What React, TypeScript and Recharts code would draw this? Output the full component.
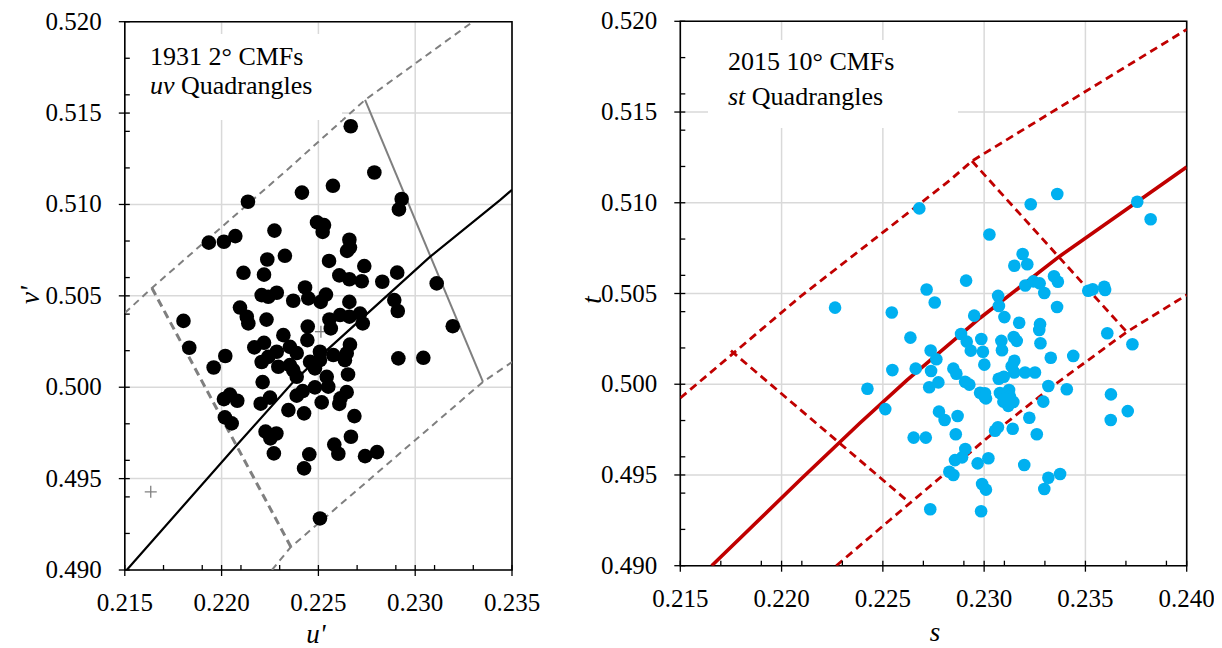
import React from 'react';
import {
  ScatterChart,
  Scatter,
  XAxis,
  YAxis,
  CartesianGrid,
  ReferenceArea,
} from 'recharts';

const SERIF = '"Liberation Serif", "Times New Roman", serif';

// ---- axis ticks ----
const uvMajorX = [0.215, 0.22, 0.225, 0.23, 0.235];
const uvMinorX = [0.217, 0.219, 0.221, 0.223, 0.227, 0.229, 0.231, 0.233];
const stMajorX = [0.215, 0.22, 0.225, 0.23, 0.235, 0.24];
const stMinorX = [0.217, 0.219, 0.221, 0.223, 0.227, 0.229, 0.231, 0.233, 0.237, 0.239];
const majorY = [0.49, 0.495, 0.5, 0.505, 0.51, 0.515, 0.52];
const minorY = [0.492, 0.494, 0.496, 0.498, 0.502, 0.504, 0.506, 0.508, 0.512, 0.514, 0.516, 0.518];

// ---- 1931 2° observers, u'v' ----
const uvU = [
  0.22667, 0.22789, 0.22575, 0.22415, 0.22136, 0.2293, 0.22916, 0.22493, 0.22529, 0.22522,
  0.22273, 0.21934, 0.22012, 0.22071, 0.2266, 0.22663, 0.22648, 0.22327, 0.22236, 0.22555,
  0.22737, 0.22113, 0.22219, 0.22608, 0.2266, 0.22724, 0.2283, 0.22907, 0.23111, 0.22431,
  0.22207, 0.22241, 0.22285, 0.2237, 0.22448, 0.22512, 0.22539, 0.2266, 0.22892, 0.2291,
  0.21803, 0.22095, 0.2213, 0.22138, 0.22232, 0.22557, 0.22564, 0.22612, 0.2266, 0.22715,
  0.22729, 0.22445, 0.22443, 0.23194, 0.22319, 0.22219, 0.22169, 0.21833, 0.22019, 0.21959,
  0.22663, 0.22646, 0.22637, 0.22913, 0.23042, 0.22285, 0.22353, 0.22388, 0.22241, 0.22207,
  0.22293, 0.22353, 0.2237, 0.22388, 0.22457, 0.22482, 0.22508, 0.22508, 0.22577, 0.22543,
  0.22551, 0.22653, 0.22212, 0.22482, 0.22012, 0.22043, 0.22081, 0.2225, 0.22202, 0.22388,
  0.22419, 0.22517, 0.22646, 0.22614, 0.22608, 0.22017, 0.22052, 0.22345, 0.22426, 0.22686,
  0.22227, 0.22252, 0.22283, 0.22668, 0.22582, 0.22603, 0.2227, 0.22453, 0.22426, 0.22741,
  0.22803, 0.22508,
];
const uvV = [
  0.51428, 0.51175, 0.51102, 0.51065, 0.51015, 0.5103, 0.50973, 0.50902, 0.50887, 0.5085,
  0.50857, 0.50791, 0.50796, 0.50827, 0.50807, 0.50764, 0.50746, 0.50719, 0.50699, 0.50691,
  0.50663, 0.50626, 0.50616, 0.50612, 0.50591, 0.5058, 0.50577, 0.50627, 0.50568, 0.50546,
  0.50504, 0.50495, 0.50517, 0.50473, 0.50486, 0.50467, 0.50507, 0.50467, 0.50477, 0.50417,
  0.50363, 0.50436, 0.50386, 0.50349, 0.5037, 0.50371, 0.50322, 0.50395, 0.50386, 0.50403,
  0.50349, 0.50332, 0.50258, 0.50334, 0.50285, 0.50243, 0.50218, 0.50216, 0.50171, 0.50108,
  0.50233, 0.50185, 0.50148, 0.50158, 0.50161, 0.50194, 0.50221, 0.50187, 0.50166, 0.50138,
  0.50112, 0.50121, 0.50094, 0.50057, 0.50139, 0.50103, 0.50148, 0.50194, 0.50176, 0.50057,
  0.50003, 0.5007, 0.50028, 0.49999, 0.49935, 0.4996, 0.49926, 0.49943, 0.4991, 0.49954,
  0.49979, 0.49917, 0.49973, 0.49939, 0.49909, 0.49835, 0.49802, 0.49875, 0.49857, 0.49842,
  0.49757, 0.4972, 0.49747, 0.49729, 0.49686, 0.49636, 0.49638, 0.49633, 0.49556, 0.49623,
  0.49645, 0.49282,
];
const uvCrossU = [0.21634, 0.22513];
const uvCrossV = [0.49428, 0.50304];

// Planckian-like locus through the uv cloud
const uvLocusU = [0.2151, 0.2208, 0.22379, 0.22544, 0.23076, 0.23438, 0.235];
const uvLocusV = [0.49, 0.49685, 0.50039, 0.50203, 0.50713, 0.51024, 0.5108];

// quadrangle edges
const uvUpperU = [0.215, 0.2164, 0.22338, 0.22741, 0.23298];
const uvUpperV = [0.50406, 0.50543, 0.51189, 0.51572, 0.52];
const uvLowerU = [0.2226, 0.22358, 0.2335, 0.235];
const uvLowerV = [0.49, 0.49126, 0.50029, 0.50138];
const uvLeftU = [0.2164, 0.22358];
const uvLeftV = [0.50543, 0.49126];
const uvRightU = [0.22741, 0.2335];
const uvRightV = [0.51572, 0.50029];

// ---- 2015 10° observers, st ----
const stS = [
  0.2268, 0.23026, 0.22264, 0.22544, 0.22716, 0.22756, 0.22911, 0.23069, 0.23073, 0.22951,
  0.22636, 0.22886, 0.22914, 0.22934, 0.22986, 0.22994, 0.22736, 0.22764, 0.23001, 0.22547,
  0.22662, 0.22738, 0.22848, 0.22863, 0.22906, 0.22927, 0.23361, 0.2323, 0.23756, 0.23822,
  0.2319, 0.23149, 0.23213, 0.23203, 0.23243, 0.23274, 0.23345, 0.23364, 0.23297, 0.23514,
  0.23536, 0.23593, 0.23597, 0.2336, 0.231, 0.23173, 0.23276, 0.23272, 0.23608, 0.23732,
  0.23085, 0.23088, 0.23146, 0.23161, 0.23278, 0.23329, 0.2344, 0.23149, 0.23136, 0.23149,
  0.23202, 0.23251, 0.23072, 0.23097, 0.23317, 0.23408, 0.23626, 0.23709, 0.23625, 0.23004,
  0.23009, 0.23078, 0.23123, 0.23095, 0.23119, 0.23144, 0.23128, 0.23103, 0.23292, 0.23223,
  0.23141, 0.23054, 0.23068, 0.2326, 0.22424, 0.22512, 0.22729, 0.22774, 0.2298, 0.23002,
  0.22777, 0.22805, 0.22869, 0.22652, 0.22712, 0.2286, 0.22907, 0.22891, 0.22856, 0.22828,
  0.22848, 0.22968, 0.23021, 0.2299, 0.23009, 0.22734, 0.22985, 0.23198, 0.23317, 0.23297,
  0.23375,
];
const stT = [
  0.50969, 0.50825, 0.50422, 0.50395, 0.50522, 0.5045, 0.50571, 0.50487, 0.50431, 0.50378,
  0.50257, 0.50277, 0.50235, 0.50185, 0.50249, 0.50179, 0.50186, 0.50138, 0.50108, 0.50078,
  0.50086, 0.50073, 0.50086, 0.50058, 0.50014, 0.49998, 0.51048, 0.50992, 0.51006, 0.50909,
  0.50718, 0.50653, 0.50661, 0.50544, 0.50567, 0.50556, 0.50595, 0.50565, 0.50503, 0.50515,
  0.50523, 0.50537, 0.50519, 0.50426, 0.5037, 0.50339, 0.50331, 0.50299, 0.50281, 0.5022,
  0.50239, 0.50187, 0.5026, 0.50239, 0.50226, 0.50146, 0.50156, 0.50129, 0.50099, 0.50065,
  0.50065, 0.50065, 0.5003, 0.50041, 0.4999, 0.49972, 0.49944, 0.49852, 0.49803, 0.4995,
  0.49922, 0.49952, 0.49968, 0.49904, 0.49881, 0.49902, 0.49931, 0.49922, 0.49904, 0.49815,
  0.49755, 0.49744, 0.49763, 0.49724, 0.49975, 0.49863, 0.49983, 0.5001, 0.49953, 0.49931,
  0.49849, 0.49803, 0.49825, 0.49706, 0.49706, 0.49724, 0.49643, 0.49597, 0.49582, 0.49518,
  0.495, 0.49564, 0.49592, 0.4945, 0.49419, 0.49311, 0.493, 0.49555, 0.49485, 0.49423,
  0.49505,
];

const stLocusS = [0.21655, 0.22091, 0.22387, 0.22619, 0.2298, 0.23375, 0.23756, 0.24];
const stLocusT = [0.49, 0.49472, 0.49786, 0.50023, 0.50365, 0.50707, 0.51006, 0.51197];

const stUpperS = [0.215, 0.22091, 0.22832, 0.2294, 0.24];
const stUpperT = [0.49924, 0.50481, 0.51125, 0.5123, 0.51955];
const stLowerS = [0.2227, 0.22535, 0.23013, 0.23334, 0.23704, 0.24];
const stLowerT = [0.49, 0.49252, 0.49702, 0.49986, 0.50288, 0.50492];
const stLeftS = [0.2175, 0.22626];
const stLeftT = [0.50185, 0.49353];
const stRightS = [0.2294, 0.23704];
const stRightT = [0.5123, 0.50288];

const zip = (xs: number[], ys: number[]) => xs.map((x, i) => ({ x, y: ys[i] }));

const isMajor = (v: number) => Math.abs(v / 0.005 - Math.round(v / 0.005)) < 1e-6;
const fmt = (v: number) => v.toFixed(3);

const NoDot = () => <g />;

const XTick = (axisY: number) => (props: any) => {
  const { x, payload } = props;
  const v = payload.value as number;
  if (!isMajor(v)) {
    return <line x1={x} x2={x} y1={axisY - 5} y2={axisY} stroke="#000" strokeWidth={1.3} />;
  }
  return (
    <g>
      <line x1={x} x2={x} y1={axisY - 5} y2={axisY + 6} stroke="#000" strokeWidth={1.3} />
      <text x={x} y={axisY + 41} textAnchor="middle" fontFamily={SERIF} fontSize={25} fill="#000">
        {fmt(v)}
      </text>
    </g>
  );
};

const YTick = (axisX: number) => (props: any) => {
  const { y, payload } = props;
  const v = payload.value as number;
  if (!isMajor(v)) {
    return <line x1={axisX} x2={axisX + 5} y1={y} y2={y} stroke="#000" strokeWidth={1.3} />;
  }
  return (
    <g>
      <line x1={axisX - 6} x2={axisX + 5} y1={y} y2={y} stroke="#000" strokeWidth={1.3} />
      <text x={axisX - 23} y={y + 8} textAnchor="end" fontFamily={SERIF} fontSize={25} fill="#000">
        {fmt(v)}
      </text>
    </g>
  );
};

const sortTicks = (a: number[], b: number[]) => [...a, ...b].sort((p, q) => p - q);

interface PanelProps {
  width: number;
  height: number;
  plotLeft: number;
  plotTop: number;
  plotWidth: number;
  plotHeight: number;
  xDomain: [number, number];
  xTicks: number[];
  xMajor: number[];
  children: React.ReactNode;
}

const Panel: React.FC<PanelProps> = ({
  width, height, plotLeft, plotTop, plotWidth, plotHeight, xDomain, xTicks, xMajor, children,
}) => {
  const xAxisH = 60;
  const bottom = height - plotTop - plotHeight - xAxisH;
  const right = width - plotLeft - plotWidth;
  return (
    <ScatterChart
      width={width}
      height={height}
      margin={{ top: plotTop, right, bottom, left: 0 }}
    >
      <CartesianGrid
        stroke="#d9d9d9"
        strokeWidth={1.5}
        verticalValues={xMajor}
        horizontalValues={majorY}
      />
      <XAxis
        type="number"
        dataKey="x"
        domain={xDomain}
        ticks={xTicks}
        allowDataOverflow
        axisLine={false}
        tickLine={false}
        height={xAxisH}
        interval={0}
        tick={XTick(plotTop + plotHeight)}
      />
      <YAxis
        type="number"
        dataKey="y"
        domain={[0.49, 0.52]}
        ticks={sortTicks(majorY, minorY)}
        allowDataOverflow
        axisLine={false}
        tickLine={false}
        width={plotLeft}
        interval={0}
        tick={YTick(plotLeft)}
      />
      {children}
      <ReferenceArea
        x1={xDomain[0]}
        x2={xDomain[1]}
        y1={0.49}
        y2={0.52}
        fill="none"
        stroke="#000"
        strokeWidth={1.6}
        fillOpacity={0}
      />
    </ScatterChart>
  );
};

const edge = (
  key: string,
  xs: number[],
  ys: number[],
  stroke: string,
  strokeWidth: number,
  dash?: string,
) => (
  <Scatter
    key={key}
    data={zip(xs, ys)}
    line={{ stroke, strokeWidth, strokeDasharray: dash }}
    lineType="joint"
    shape={NoDot}
    isAnimationActive={false}
  />
);

const Cross = (props: any) => {
  const { cx, cy } = props;
  return (
    <g stroke="#808080" strokeWidth={1.3}>
      <line x1={cx - 6} x2={cx + 6} y1={cy} y2={cy} />
      <line x1={cx} x2={cx} y1={cy - 6} y2={cy + 6} />
    </g>
  );
};

const textBox: React.CSSProperties = {
  position: 'absolute',
  background: '#fff',
  fontFamily: SERIF,
  fontSize: 26,
  color: '#000',
  boxSizing: 'border-box',
  paddingLeft: 20,
  whiteSpace: 'nowrap',
};

const axisTitle: React.CSSProperties = {
  position: 'absolute',
  width: 30,
  height: 24,
  lineHeight: '24px',
  fontFamily: SERIF,
  fontStyle: 'italic',
  fontSize: 27,
  textAlign: 'center',
};

export default function App() {
  const grey = '#7f7f7f';
  const red = '#c00000';
  return (
    <div style={{ position: 'relative', width: 1206, height: 640 }}>
      <div style={{ position: 'absolute', left: 0, top: 0 }}>
        <Panel
          width={560}
          height={640}
          plotLeft={116.8}
          plotTop={13.7}
          plotWidth={387.2}
          plotHeight={548.3}
          xDomain={[0.215, 0.235]}
          xTicks={sortTicks(uvMajorX, uvMinorX)}
          xMajor={uvMajorX}
        >
          {edge('uvUpper', uvUpperU, uvUpperV, grey, 2, '7 5')}
          {edge('uvLower', uvLowerU, uvLowerV, grey, 2, '7 5')}
          {edge('uvLeft', uvLeftU, uvLeftV, grey, 3, '8 5')}
          {edge('uvRight', uvRightU, uvRightV, grey, 2)}
          {edge('uvLocus', uvLocusU, uvLocusV, '#000', 2.2)}
          <Scatter
            data={zip(uvCrossU, uvCrossV)}
            shape={Cross}
            isAnimationActive={false}
          />
          <Scatter
            data={zip(uvU, uvV)}
            shape={(p: any) => <circle cx={p.cx} cy={p.cy} r={7.3} fill="#000" />}
            isAnimationActive={false}
          />
        </Panel>
      </div>
      <div style={{ position: 'absolute', left: 560, top: 0 }}>
        <Panel
          width={646}
          height={640}
          plotLeft={112.3}
          plotTop={13.3}
          plotWidth={506.4}
          plotHeight={544.4}
          xDomain={[0.215, 0.24]}
          xTicks={sortTicks(stMajorX, stMinorX)}
          xMajor={stMajorX}
        >
          {edge('stUpper', stUpperS, stUpperT, red, 2.8, '8 5')}
          {edge('stLower', stLowerS, stLowerT, red, 2.8, '8 5')}
          {edge('stLeft', stLeftS, stLeftT, red, 2.8, '8 5')}
          {edge('stRight', stRightS, stRightT, red, 2.8, '8 5')}
          {edge('stLocus', stLocusS, stLocusT, red, 3.6)}
          <Scatter
            data={zip(stS, stT)}
            shape={(p: any) => <circle cx={p.cx} cy={p.cy} r={6.3} fill="#00b0f0" />}
            isAnimationActive={false}
          />
        </Panel>
      </div>

      {/* panel annotations */}
      <div style={{ ...textBox, left: 122, top: 26, width: 212, height: 86, paddingTop: 8, lineHeight: '29px' }}>
        <div>1931 2° CMFs</div>
        <div><i>uv</i> Quadrangles</div>
      </div>
      <div style={{ ...textBox, left: 700, top: 32, width: 250, height: 88, paddingTop: 4, lineHeight: '35px' }}>
        <div>2015 10° CMFs</div>
        <div><i>st</i> Quadrangles</div>
      </div>

      {/* axis titles */}
      <div style={{ ...axisTitle, left: 7, top: 275, transform: 'rotate(-90deg)' }}>v'</div>
      <div style={{ ...axisTitle, left: 293, top: 614 }}>u'</div>
      <div style={{ ...axisTitle, left: 569, top: 280, transform: 'rotate(-90deg)' }}>t</div>
      <div style={{ ...axisTitle, left: 912, top: 612 }}>s</div>
    </div>
  );
}
